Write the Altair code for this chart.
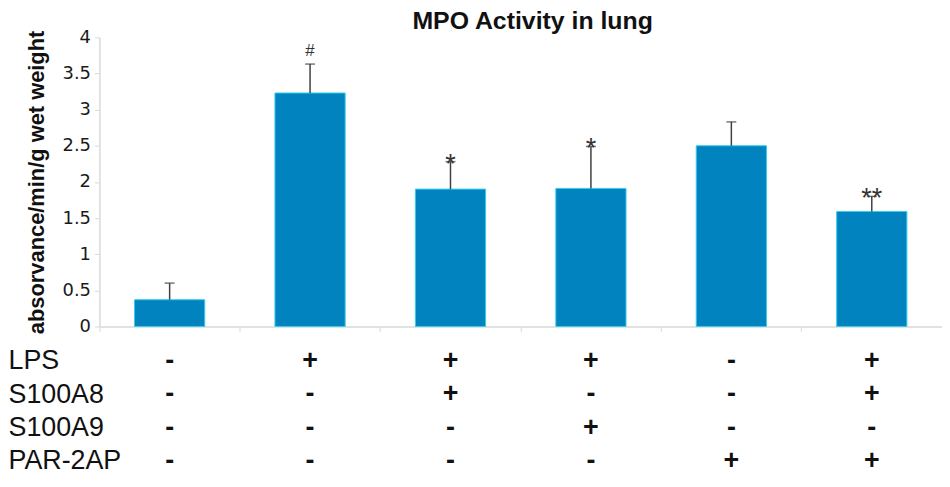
import altair as alt
import pandas as pd

groups = ["G1", "G2", "G3", "G4", "G5", "G6"]
values = [0.37, 3.23, 1.90, 1.91, 2.50, 1.59]
errors = [0.23, 0.40, 0.38, 0.58, 0.33, 0.21]
marks = ["", "#", "*", "*", "", "**"]

rows = ["LPS", "S100A8", "S100A9", "PAR-2AP"]
lps = ["-", "+", "+", "+", "-", "+"]
s100a8 = ["-", "-", "+", "-", "-", "+"]
s100a9 = ["-", "-", "-", "+", "-", "-"]
par2ap = ["-", "-", "-", "-", "+", "+"]

y_ticks = [0, 0.5, 1, 1.5, 2, 2.5, 3, 3.5, 4]

FONT = "Liberation Sans"
W = 848

df = pd.DataFrame({"group": groups, "value": values, "err": errors, "mark": marks})
df["top"] = df["value"] + df["err"]

table_rows = []
for r, signs in zip(rows, [lps, s100a8, s100a9, par2ap]):
    for g, s in zip(groups, signs):
        table_rows.append({"group": g, "row": r, "sign": s})
tdf = pd.DataFrame(table_rows)

xscale = alt.Scale(domain=groups, paddingInner=0, paddingOuter=0)
yscale = alt.Scale(domain=[0, 4], nice=False)
YTITLE = "absorvance/min/g wet weight"

x_axis = alt.Axis(labels=False, domainColor="#D9D9D9", tickColor="#D9D9D9",
                  tickSize=5, bandPosition=0, domainWidth=1.5)
y_axis = alt.Axis(values=y_ticks, format=".1~f", grid=False, labelOverlap=False,
                  domainColor="#D9D9D9", tickColor="#D9D9D9", tickSize=5,
                  domainWidth=1.5,
                  labelFont="DejaVu Sans", labelFontSize=18, labelColor="#1a1a1a",
                  labelPadding=4,
                  titleFont=FONT, titleFontSize=22, titleFontWeight="bold",
                  titleColor="#111111", titlePadding=14)


def X():
    return alt.X("group:N", sort=groups, scale=xscale, title=None, axis=x_axis)


def Y(field):
    return alt.Y(field, scale=yscale, title=YTITLE, axis=y_axis)


base = alt.Chart(df)

bars = base.mark_bar(width=alt.RelativeBandSize(0.5), color="#0083BE",
                     stroke="#35CDEF", strokeWidth=1).encode(x=X(), y=Y("value:Q"))

err_rule = base.mark_rule(color="#404040", strokeWidth=1.5).encode(
    x=X(), y=Y("value:Q"), y2="top:Q")

err_cap = base.mark_tick(color="#404040", size=10, thickness=1.5).encode(
    x=X(), y=Y("top:Q"))

hash_txt = base.transform_filter(alt.datum.mark == "#").mark_text(
    font=FONT, fontSize=17, color="#333333", baseline="alphabetic", dy=-8
).encode(x=X(), y=Y("top:Q"), text="mark:N")

star_txt = base.transform_filter(
    (alt.datum.mark == "*") | (alt.datum.mark == "**")
).mark_text(
    font=FONT, fontSize=27, color="#333333", baseline="alphabetic", dy=11
).encode(x=X(), y=Y("top:Q"), text="mark:N")

top = alt.layer(bars, err_rule, err_cap, hash_txt, star_txt).properties(
    width=W, height=291,
    title=alt.TitleParams("MPO Activity in lung", font=FONT, fontSize=25,
                          fontWeight="bold", color="#111111", anchor="middle",
                          frame="group", offset=-6, dx=12),
)

table = alt.Chart(tdf).mark_text(
    font=FONT, fontSize=27, fontWeight="bold", color="#111111"
).encode(
    x=alt.X("group:N", sort=groups, scale=xscale, axis=None),
    y=alt.Y("row:N", sort=rows, title=None,
            scale=alt.Scale(paddingInner=0, paddingOuter=0),
            axis=alt.Axis(domain=False, ticks=False, tickSize=0, labelAlign="left",
                          labelPadding=92, labelFont=FONT, labelFontSize=27,
                          labelColor="#111111")),
    text="sign:N",
).properties(width=W, height=134)

chart = alt.vconcat(top, table, spacing=9).configure(
    padding=0, background="white"
).configure_view(stroke=None)

chart.save("out.html", embed_options={"renderer": "svg", "actions": False})
